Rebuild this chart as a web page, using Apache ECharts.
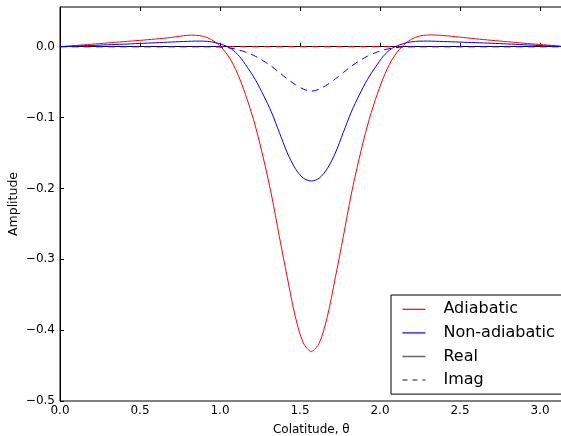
<!DOCTYPE html>
<html><head><meta charset="utf-8">
<script src="https://cdn.jsdelivr.net/npm/echarts@6/dist/echarts.min.js"></script>
<style>html,body{margin:0;padding:0;background:#fff}#c{width:561px;height:436px}</style>
</head><body><div id="c"></div>
<script>
const theta = [0, 0.0208, 0.0708, 0.1208, 0.1708, 0.2208, 0.2708, 0.3208, 0.3708, 0.4208, 0.4708, 0.5208, 0.5708, 0.6208, 0.6708, 0.7208, 0.7708, 0.8208, 0.8708, 0.9208, 0.9708, 1.0208, 1.0708, 1.1208, 1.1708, 1.2208, 1.2708, 1.3208, 1.3708, 1.4208, 1.4708, 1.5208,
  1.5708,
  1.6208, 1.6708, 1.7208, 1.7708, 1.8208, 1.8708, 1.9208, 1.9708, 2.0208, 2.0708, 2.1208, 2.1708, 2.2208, 2.2708, 2.3208, 2.3708, 2.4208, 2.4708, 2.5208, 2.5708, 2.6208, 2.6708, 2.7208, 2.7708, 2.8208, 2.8708, 2.9208, 2.9708, 3.0208, 3.0708, 3.1208, 3.1416];
const adiabaticReal = [0, 0.0003, 0.0012, 0.0021, 0.0030, 0.0039, 0.0048, 0.0057, 0.0066, 0.0075, 0.0084, 0.0093, 0.0103, 0.0113, 0.0124, 0.0138, 0.0154, 0.0163, 0.0157, 0.0128, 0.0065, -0.004, -0.020, -0.044, -0.075, -0.112, -0.157, -0.208, -0.268, -0.326, -0.381, -0.418,
  -0.430,
  -0.418, -0.381, -0.326, -0.268, -0.208, -0.157, -0.112, -0.075, -0.044, -0.020, -0.004, 0.0068, 0.0132, 0.0160, 0.0165, 0.0162, 0.0153, 0.0142, 0.0130, 0.0118, 0.0106, 0.0095, 0.0085, 0.0075, 0.0065, 0.0055, 0.0045, 0.0036, 0.0027, 0.0019, 0.0009, 0];
const adiabaticImag = [0,0,0,0,0,0,0,0,0,0,0,0,0,0,0,0,0,0,0,0,0,0,0,0,0,0,0,0,0,0,0,0, 0, 0,0,0,0,0,0,0,0,0,0,0,0,0,0,0,0,0,0,0,0,0,0,0,0,0,0,0,0,0,0,0,0];
const nonAdiabaticReal = [0, 0.0002, 0.0006, 0.0010, 0.0015, 0.0019, 0.0024, 0.0029, 0.0033, 0.0038, 0.0043, 0.0048, 0.0053, 0.0058, 0.0063, 0.0068, 0.0073, 0.0077, 0.0079, 0.0075, 0.0058, 0.0025, -0.003, -0.0135, -0.029, -0.0465, -0.068, -0.092, -0.121, -0.150, -0.172, -0.1855,
  -0.1895,
  -0.1855, -0.172, -0.150, -0.121, -0.092, -0.068, -0.0465, -0.029, -0.0135, -0.003, 0.0025, 0.0058, 0.0075, 0.0079, 0.0078, 0.0075, 0.0071, 0.0067, 0.0063, 0.0059, 0.0055, 0.0051, 0.0046, 0.0041, 0.0036, 0.0031, 0.0025, 0.0019, 0.0013, 0.0008, 0.0003, 0];
const nonAdiabaticImag = [0, 0, 0, 0, 0, 0, 0, 0, 0, 0, 0, 0, 0, 0, 0, 0, 0, 0, 0, 0, -0.0002, -0.0008, -0.0022, -0.0048, -0.0085, -0.0135, -0.0200, -0.0275, -0.0365, -0.0455, -0.0535, -0.0598,
  -0.0628,
  -0.0598, -0.0535, -0.0455, -0.0365, -0.0275, -0.0200, -0.0135, -0.0085, -0.0048, -0.0022, -0.0008, -0.0002, 0, 0, 0, 0, 0, 0, 0, 0, 0, 0, 0, 0, 0, 0, 0, 0, 0, 0, 0, 0];
const legendNames = ['Adiabatic', 'Non-adiabatic', 'Real', 'Imag'];
const xTitle = 'Colatitude, θ';
const yTitle = 'Amplitude';

const pairs = ys => theta.map((t, i) => [t, ys[i]]);
const fmt = v => { const a = Math.abs(v) < 1e-9 ? 0 : v; return (a < 0 ? '\u2212' : '') + Math.abs(a).toFixed(1); };
const FONT = 'DejaVu Sans';
const dash = [7, 5];

const chart = echarts.init(document.getElementById('c'), null, {renderer: 'canvas'});
chart.setOption({
  animation: false,
  backgroundColor: '#fff',
  grid: {left: 60, top: 7, right: -1.65, bottom: 35, containLabel: false, outerBoundsMode: 'none', show: true, borderColor: '#000', borderWidth: 1, backgroundColor: 'transparent'},
  xAxis: [{
    type: 'value', min: 0, max: Math.PI, interval: 0.5,
    name: xTitle, nameLocation: 'middle', nameGap: 23,
    nameTextStyle: {fontFamily: FONT, fontSize: 12, color: '#000'},
    axisLine: {show: true, lineStyle: {color: '#000', width: 1}},
    axisTick: {show: true, inside: true, length: 4, lineStyle: {color: '#000'}},
    axisLabel: {fontFamily: FONT, fontSize: 12, color: '#000', margin: 4, formatter: fmt, showMaxLabel: false},
    splitLine: {show: false}
  }, {
    type: 'value', position: 'top', min: 0, max: Math.PI, interval: 0.5,
    axisLine: {show: false},
    axisTick: {show: true, inside: true, length: 4, lineStyle: {color: '#000'}},
    axisLabel: {show: false}, splitLine: {show: false}
  }],
  yAxis: [{
    type: 'value', min: -0.5, max: 0.056, interval: 0.1,
    name: yTitle, nameLocation: 'middle', nameGap: 40, nameRotate: 90, nameMoveOverlap: false,
    nameTextStyle: {fontFamily: FONT, fontSize: 12.5, color: '#000'},
    axisLine: {show: true, lineStyle: {color: '#000', width: 1}},
    axisTick: {show: true, inside: true, length: 4, lineStyle: {color: '#000'}},
    axisLabel: {fontFamily: FONT, fontSize: 12, color: '#000', margin: 5, formatter: fmt, showMaxLabel: false},
    splitLine: {show: false}
  }],
  legend: {
    data: [
      {name: legendNames[0], lineStyle: {width: 1.2}},
      {name: legendNames[1], lineStyle: {width: 1.2}},
      {name: legendNames[2], lineStyle: {width: 1.5}},
      {name: legendNames[3], lineStyle: {width: 1.5}}
    ],
    orient: 'vertical', left: 391, top: 295,
    itemWidth: 23, itemHeight: 14, itemGap: 7.6,
    padding: [6.3, 12, 6, 10.7],
    borderColor: '#000', borderWidth: 1, backgroundColor: '#fff',
    itemStyle: {opacity: 0},
    textStyle: {fontFamily: FONT, fontSize: 16, color: '#000', padding: [0, 0, 0, 13]},
    selectedMode: false
  },
  series: [
    {name: 'Adiabatic', type: 'line', data: pairs(adiabaticReal), showSymbol: false, symbol: 'none', smooth: 0.3, color: '#ff0000', lineStyle: {color: '#ff0000', width: 1}, z: 2},
    {name: 'Adiabatic imag', type: 'line', data: pairs(adiabaticImag), showSymbol: false, symbol: 'none', color: '#ff0000', lineStyle: {color: '#ff0000', width: 1, type: dash}, z: 2},
    {name: 'Non-adiabatic', type: 'line', data: pairs(nonAdiabaticReal), showSymbol: false, symbol: 'none', smooth: 0.3, color: '#0000ff', lineStyle: {color: '#0000ff', width: 1}, z: 3},
    {name: 'Non-adiabatic imag', type: 'line', data: pairs(nonAdiabaticImag), showSymbol: false, symbol: 'none', smooth: 0.3, color: '#0000ff', lineStyle: {color: '#0000ff', width: 1, type: dash}, z: 3},
    {name: 'Real', type: 'line', data: [], symbol: 'none', color: '#666', lineStyle: {color: '#666', width: 1.5}},
    {name: 'Imag', type: 'line', data: [], symbol: 'none', color: '#666', lineStyle: {color: '#666', width: 1.5, type: [5, 5]}}
  ]
});
</script>
</body></html>
